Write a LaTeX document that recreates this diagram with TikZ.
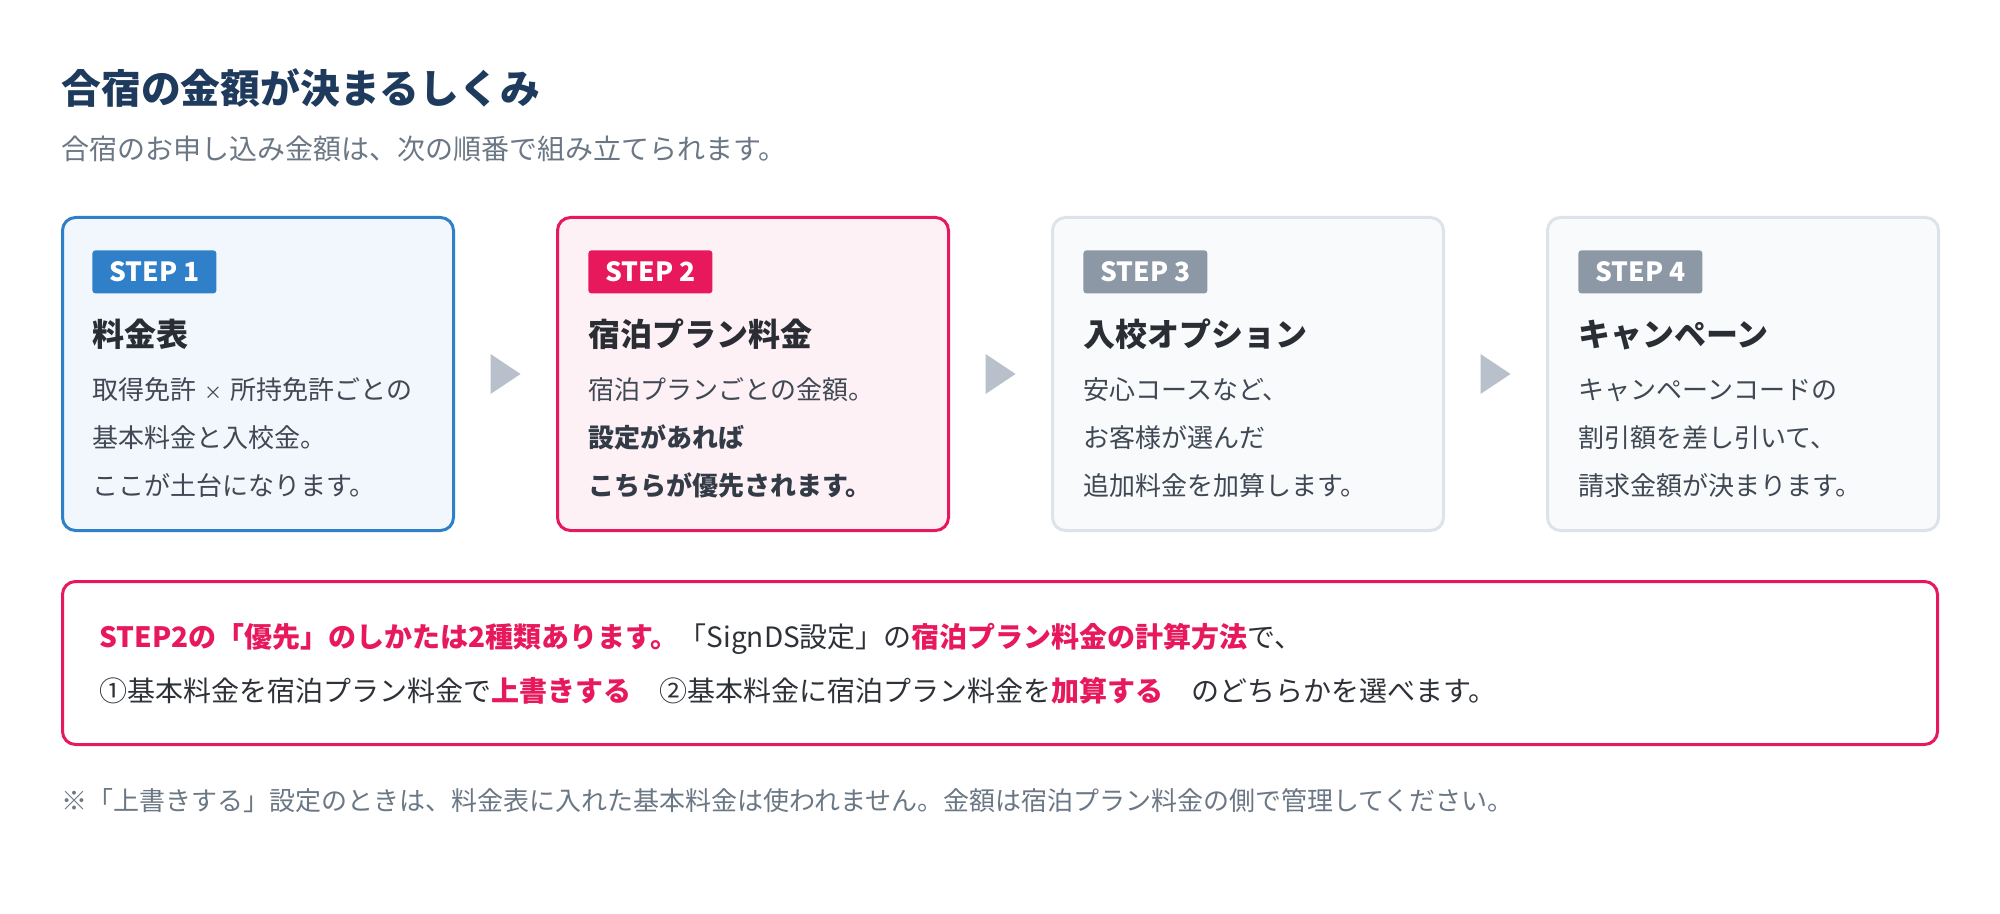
\documentclass[tikz,border=0pt]{standalone}
\usepackage{fontspec}
\setmainfont{Noto Sans CJK JP}
\usetikzlibrary{calc}
\definecolor{navy}{HTML}{1E3A5C}
\definecolor{subgray}{HTML}{6B7785}
\definecolor{bodytext}{HTML}{404854}
\definecolor{boldtext}{HTML}{333B47}
\definecolor{headtext}{HTML}{2A2D33}
\definecolor{darktext}{HTML}{2E3238}
\definecolor{stepblue}{HTML}{2F7FC9}
\definecolor{stepblueback}{HTML}{F2F7FD}
\definecolor{steppink}{HTML}{E8185D}
\definecolor{steppinkback}{HTML}{FDF1F5}
\definecolor{stepgray}{HTML}{8C98A5}
\definecolor{cardgray}{HTML}{DDE3EA}
\definecolor{cardgrayback}{HTML}{F8FAFC}
\definecolor{arrowgray}{HTML}{B8C1CB}
\begin{document}
\begin{tikzpicture}[x=0.5pt,y=-0.5pt,
  card/.style={draw,line width=1.5pt,rounded corners=6.5pt,minimum width=195.5pt,minimum height=156.5pt,inner sep=0pt},
  badge/.style={anchor=north west,rounded corners=1.5pt,minimum width=62pt,minimum height=21.5pt,inner sep=0pt,text=white,font=\fontsize{13.2}{13.2}\selectfont\bfseries},
  heading/.style={anchor=base west,inner sep=0pt,text=headtext,font=\fontsize{16}{16}\selectfont\bfseries},
  bodyline/.style={anchor=base west,inner sep=0pt,text=bodytext,font=\fontsize{13}{13}\selectfont},
  boldline/.style={bodyline,text=boldtext,font=\fontsize{13}{13}\selectfont\bfseries},
  noteline/.style={anchor=base west,inner sep=0pt,text=darktext,font=\fontsize{14}{14}\selectfont},
  arrowmark/.style={fill=arrowgray}]
\fill[white] (0,0) rectangle (2000,914);
\useasboundingbox (0,0) rectangle (2000,914);
\node[anchor=base west,inner sep=0pt,text=navy,font=\fontsize{19.9}{19.9}\selectfont\bfseries] (title) at (61,104) {合宿の金額が決まるしくみ};
\node[anchor=base west,inner sep=0pt,text=subgray,font=\fontsize{14}{14}\selectfont] (subtitle) at (61,160) {合宿のお申し込み金額は、次の順番で組み立てられます。};

\node[card,draw=stepblue,fill=stepblueback] (b1) at (258,374) {};
\node[card,draw=steppink,fill=steppinkback] (b2) at (753,374) {};
\node[card,draw=cardgray,fill=cardgrayback] (b3) at (1248,374) {};
\node[card,draw=cardgray,fill=cardgrayback] (b4) at (1743,374) {};

\node[badge,fill=stepblue] (s1) at (92,250) {STEP 1};
\node[badge,fill=steppink] (s2) at (588,250) {STEP 2};
\node[badge,fill=stepgray] (s3) at (1083,250) {STEP 3};
\node[badge,fill=stepgray] (s4) at (1578,250) {STEP 4};

\node[heading] (h1) at (92,346) {料金表};
\node[heading] (h2) at (588,346) {宿泊プラン料金};
\node[heading] (h3) at (1083,346) {入校オプション};
\node[heading] (h4) at (1578,346) {キャンペーン};

\node[bodyline] (t11) at (92,399) {取得免許\hspace{4pt}{\fontsize{9}{9}\selectfont ×}\hspace{4pt}所持免許ごとの};
\node[bodyline] (t12) at (92,447) {基本料金と入校金。};
\node[bodyline] (t13) at (92,495) {ここが土台になります。};
\node[bodyline] (t21) at (588,399) {宿泊プランごとの金額。};
\node[boldline] (t22) at (588,447) {設定があれば};
\node[boldline] (t23) at (588,495) {こちらが優先されます。};
\node[bodyline] (t31) at (1083,399) {安心コースなど、};
\node[bodyline] (t32) at (1083,447) {お客様が選んだ};
\node[bodyline] (t33) at (1083,495) {追加料金を加算します。};
\node[bodyline] (t41) at (1578,399) {キャンペーンコードの};
\node[bodyline] (t42) at (1578,447) {割引額を差し引いて、};
\node[bodyline] (t43) at (1578,495) {請求金額が決まります。};

\coordinate (a1) at ($(b1.east)!0.5!(b2.west)$);
\coordinate (a2) at ($(b2.east)!0.5!(b3.west)$);
\coordinate (a3) at ($(b3.east)!0.5!(b4.west)$);
\fill[arrowmark] ([xshift=-7.5pt,yshift=10pt]a1) -- ([xshift=7.5pt]a1) -- ([xshift=-7.5pt,yshift=-10pt]a1) -- cycle;
\fill[arrowmark] ([xshift=-7.5pt,yshift=10pt]a2) -- ([xshift=7.5pt]a2) -- ([xshift=-7.5pt,yshift=-10pt]a2) -- cycle;
\fill[arrowmark] ([xshift=-7.5pt,yshift=10pt]a3) -- ([xshift=7.5pt]a3) -- ([xshift=-7.5pt,yshift=-10pt]a3) -- cycle;

\node[draw=steppink,fill=white,line width=1.5pt,rounded corners=6.5pt,minimum width=937.5pt,minimum height=81.5pt,inner sep=0pt] (note) at (1000,663) {};
\node[noteline] (n1) at (99,647) {{\color{steppink}\bfseries STEP2の「優先」のしかたは2種類あります。}「SignDS設定」の{\color{steppink}\bfseries 宿泊プラン料金の計算方法}で、};
\node[noteline] (n2) at (99,701) {①基本料金を宿泊プラン料金で{\color{steppink}\bfseries 上書きする}\hspace{14pt}②基本料金に宿泊プラン料金を{\color{steppink}\bfseries 加算する}\hspace{14pt}のどちらかを選べます。};
\node[anchor=base west,inner sep=0pt,text=subgray,font=\fontsize{13}{13}\selectfont] (foot) at (61,810) {※「上書きする」設定のときは、料金表に入れた基本料金は使われません。金額は宿泊プラン料金の側で管理してください。};
\end{tikzpicture}
\end{document}
